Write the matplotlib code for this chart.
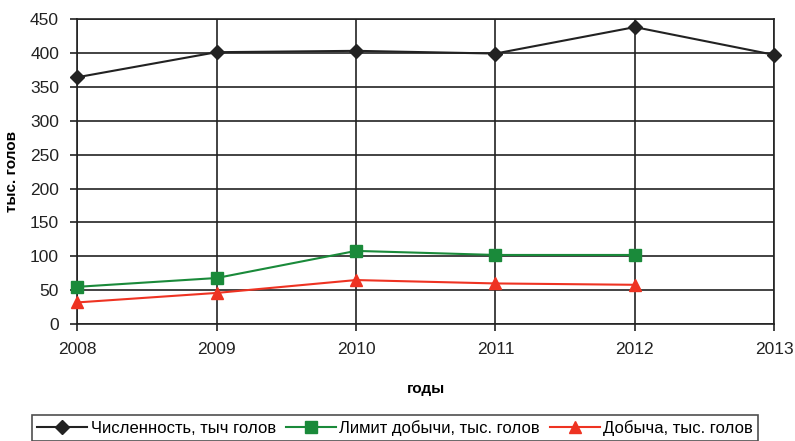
import numpy as np
import matplotlib.pyplot as plt

plt.rcParams['font.family'] = ['Liberation Sans', 'DejaVu Sans']

years = [2008, 2009, 2010, 2011, 2012, 2013]
population = [364, 401, 403, 399, 438, 397]
limit_years = [2008, 2009, 2010, 2011, 2012]
limit = [55, 68, 108, 102, 102]
harvest = [32, 46, 65, 60, 58]

fig = plt.figure(figsize=(7.95, 4.41), dpi=100)
ax = fig.add_axes([0.097, 0.265, 0.877, 0.692])

ax.plot(years, population, color='#222222', marker='D', ms=7, lw=1.5,
        label='Численность, тыч голов', clip_on=False, zorder=5)
ax.plot(limit_years, limit, color='#1a8a3a', marker='s', ms=8, lw=1.5,
        label='Лимит добычи, тыс. голов', clip_on=False, zorder=5)
ax.plot(limit_years, harvest, color='#ee3322', marker='^', ms=9, lw=1.5,
        label='Добыча, тыс. голов', clip_on=False, zorder=5)

ax.set_xlim(2008, 2013)
ax.set_ylim(0, 450)
ax.set_xticks(years)
ax.set_yticks(np.arange(0, 451, 50))
ax.grid(True, color='#222222', lw=1.2)
ax.set_axisbelow(True)
for s in ax.spines.values():
    s.set_color('#222222')
    s.set_linewidth(1.2)
ax.tick_params(labelsize=12.5, colors='#222222', length=5, width=1.2, pad=8)

ax.set_ylabel('тыс. голов', fontsize=11, fontweight='bold', labelpad=8)
ax.set_xlabel('годы', fontsize=11, fontweight='bold', labelpad=18)

leg = fig.legend(loc='center', bbox_to_anchor=(0.497, 0.03), ncol=3,
                 fontsize=12, frameon=True, fancybox=False, handlelength=3,
                 columnspacing=0.6, handletextpad=0.2, borderpad=0.3)
leg.get_frame().set_edgecolor('#222222')
leg.get_frame().set_linewidth(1.2)

fig.savefig('out.png', dpi=100)
